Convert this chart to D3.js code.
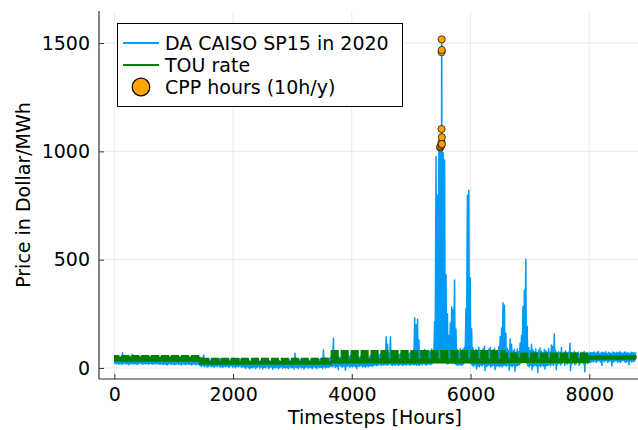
<!DOCTYPE html>
<html>
<head>
<meta charset="utf-8">
<script src="https://cdn.jsdelivr.net/npm/d3@7/dist/d3.min.js"></script>
<style>
  body { margin: 0; background: #fff; }
  text { font-family: "DejaVu Sans", sans-serif; fill: #000; }
</style>
</head>
<body>
<svg id="chart" width="638" height="430"></svg>
<script>
// Day-ahead CAISO SP15 price in 2020 ($/MWh): daily low and daily high, month by month.
const lowJan = [20,18,22,17,21,16,19,23,18,20,15,19,22,17,21,18,16,20,23,19,17,21,18,20,16,22,19,17,21,18,20];
const highJan = [52,48,55,46,50,70,58,47,44,51,49,53,62,56,48,45,50,54,47,43,52,57,49,46,51,55,48,44,50,53,47];
const lowFeb = [18,16,20,15,19,17,14,18,21,16,19,15,17,20,16,18,14,19,17,15,20,16,18,14,17,19,15,18,16];
const highFeb = [46,50,44,48,52,45,41,49,53,47,43,50,46,42,48,51,45,40,47,49,44,46,50,43,41,48,45,52,47];
const lowMar = [10,8,12,6,9,4,7,11,5,8,3,9,6,10,4,7,2,8,5,9,3,6,10,4,7,1,8,5,9,3,6];
const highMar = [45,48,60,42,38,44,40,36,41,39,43,37,35,40,44,38,36,42,39,34,37,41,45,38,35,40,36,43,39,37,41];
const lowApr = [4,-2,6,1,-5,3,0,5,-3,2,7,-1,4,-4,3,1,6,-2,2,5,-6,3,0,4,-3,2,6,-1,3,0];
const highApr = [36,33,38,34,30,37,35,32,39,34,31,36,33,29,35,38,32,34,30,36,33,37,31,35,34,30,38,33,36,32];
const lowMay = [2,-4,5,0,3,-6,4,1,-2,6,0,3,-5,2,5,-1,4,0,-3,6,2,-4,5,1,3,-2,6,0,4,2,5];
const highMay = [34,38,32,36,40,68,35,33,39,37,42,36,34,38,41,35,37,33,39,44,36,40,38,43,45,83,48,42,46,44,50];
const lowJun = [8,5,10,2,7,-8,12,6,4,9,-10,7,11,3,8,5,10,6,-4,9,7,12,5,8,3,10,6,9,11,7];
const highJun = [55,137,52,48,56,50,47,53,58,49,51,46,54,57,50,48,55,52,60,49,53,56,51,47,58,54,50,59,53,57];
const lowJul = [12,15,10,14,18,11,16,13,17,12,15,19,14,11,16,13,18,12,15,17,11,14,16,13,18,12,15,17,14,16,13];
const highJul = [58,62,55,60,65,57,63,70,144,110,68,144,72,66,60,64,58,62,67,59,63,70,65,61,68,72,66,75,232,200,225];
const lowAug = [15,12,18,14,20,16,13,19,17,15,21,25,35,40,45,42,48,38,30,25,20,18,22,25,20,24,18,14,12,16,13];
// null: that day's peak is carried by the CPP hours below
const highAug = [129,80,72,78,85,70,76,82,74,88,79,214,975,798,1005,null,null,995,960,430,250,150,207,283,270,406,180,85,78,90,82];
const lowSep = [14,18,30,35,38,28,20,12,8,15,-5,10,6,13,9,16,-12,7,11,14,5,9,13,-8,8,12,6,10,4,11];
const highSep = [88,95,275,798,821,415,180,92,78,85,70,96,82,74,88,100,79,72,86,94,77,83,90,75,81,98,144,184,301,290];
const lowOct = [12,8,14,-10,10,6,13,-15,9,11,15,20,25,28,30,22,10,5,12,-8,7,14,9,-20,11,6,13,8,-5,10,12];
const highOct = [160,90,80,134,110,78,85,72,88,76,114,150,283,360,502,193,95,80,109,84,75,88,70,82,92,77,68,85,79,73,90];
const lowNov = [15,10,18,12,20,-8,16,22,14,19,25,11,21,17,23,-12,18,24,15,20,26,13,22,28,19,-18,24,21,27,25];
const highNov = [72,106,100,157,80,68,75,70,95,66,74,78,69,73,114,71,65,77,70,68,74,63,72,69,76,66,71,67,73,70];
const lowDec = [30,28,33,25,31,34,27,12,32,29,35,26,30,33,9,28,31,34,27,30,24,32,35,29,26,31,15,33,28,30,32];
const highDec = [70,74,68,72,76,65,71,73,69,75,67,72,70,66,74,71,68,73,69,75,70,67,72,74,68,71,66,73,70,69,72];

// Critical peak pricing hours: the ten highest-priced hours of the year
const cppHours = [5489, 5490, 5510, 5511, 5512, 5513, 5514, 5515, 5516, 5517];
const cppPrices = [1018, 1022, 1028, 1040, 1103, 1458, 1517, 1468, 1065, 1034];

// Time-of-use tariff: season start hour, off-peak and peak rates ($/MWh)
const touSeasonStart = [0, 1440, 3648, 6576, 7992];
const touOffPeak = [33, 19, 25, 27, 42];
const touWeekdayPeak = [55, 42, 78, 67, 54];
const touWeekendPeak = [48, 28, 38, 40, 54];
const touPeakHours = [12, 20];   // on-peak window [start, end) within each day

const xTicks = [0, 2000, 4000, 6000, 8000];
const yTicks = [0, 500, 1000, 1500];
const hoursInYear = 8784;

(function draw() {
  const dailyLow = [].concat(lowJan, lowFeb, lowMar, lowApr, lowMay, lowJun, lowJul, lowAug, lowSep, lowOct, lowNov, lowDec);
  const dailyHigh = [].concat(highJan, highFeb, highMar, highApr, highMay, highJun, highJul, highAug, highSep, highOct, highNov, highDec);

  // Price trace: overnight low then evening high for every day, plus the CPP hours
  const price = [];
  dailyLow.forEach((lo, d) => {
    price.push({ h: d * 24 + 4, v: lo });
    if (dailyHigh[d] !== null) price.push({ h: d * 24 + 19, v: dailyHigh[d] });
  });
  const cpp = cppHours.map((h, i) => ({ h, v: cppPrices[i] }));
  price.push(...cpp);
  price.sort((a, b) => a.h - b.h);

  // TOU rate as a step series (1 Jan 2020 was a Wednesday)
  const tou = [];
  for (let d = 0; d < hoursInYear / 24; d++) {
    const h0 = d * 24;
    let s = 0;
    while (s + 1 < touSeasonStart.length && h0 >= touSeasonStart[s + 1]) s++;
    const dow = (d + 3) % 7;
    const weekend = dow === 0 || dow === 6;
    const peak = weekend ? touWeekendPeak[s] : touWeekdayPeak[s];
    tou.push({ h: h0, v: touOffPeak[s] });
    tou.push({ h: h0 + touPeakHours[0], v: peak });
    tou.push({ h: h0 + touPeakHours[1], v: touOffPeak[s] });
  }
  tou.push({ h: hoursInYear - 1, v: tou[tou.length - 1].v });

  const svg = d3.select("#chart");
  const W = 638, H = 430;
  const pL = 99, pR = 641, pT = 11, pB = 379;
  const fs = 19;

  svg.append("rect").attr("width", W).attr("height", H).attr("fill", "#fff");

  const x = d3.scaleLinear().domain([-258, 8871]).range([pL, pR]);
  const y = d3.scaleLinear().domain([-51, 1648]).range([pB, pT]);

  svg.append("defs").append("clipPath").attr("id", "plot-area")
    .append("rect").attr("x", pL).attr("y", pT).attr("width", pR - pL).attr("height", pB - pT);

  // grid
  const grid = svg.append("g");
  grid.selectAll(".gx").data(xTicks).join("line")
    .attr("x1", d => x(d)).attr("x2", d => x(d)).attr("y1", pT).attr("y2", pB)
    .attr("stroke", "#000").attr("stroke-opacity", 0.1).attr("stroke-width", 0.8);
  grid.selectAll(".gy").data(yTicks).join("line")
    .attr("x1", pL).attr("x2", pR).attr("y1", d => y(d)).attr("y2", d => y(d))
    .attr("stroke", "#000").attr("stroke-opacity", 0.1).attr("stroke-width", 0.8);

  const plot = svg.append("g").attr("clip-path", "url(#plot-area)");

  plot.append("path").datum(price)
    .attr("fill", "none").attr("stroke", "#009af9").attr("stroke-width", 1.5)
    .attr("stroke-linejoin", "round")
    .attr("d", d3.line().x(d => x(d.h)).y(d => y(d.v)));

  plot.append("path").datum(tou)
    .attr("fill", "none").attr("stroke", "#008000").attr("stroke-width", 2)
    .attr("d", d3.line().curve(d3.curveStepAfter).x(d => x(d.h)).y(d => y(d.v)));

  plot.selectAll(".cpp").data(cpp).join("circle")
    .attr("cx", d => x(d.h)).attr("cy", d => y(d.v)).attr("r", 3.6)
    .attr("fill", "#ffa500").attr("stroke", "#000").attr("stroke-width", 0.7);

  // axes
  const xAxis = d3.axisBottom(x).tickValues(xTicks).tickSize(-5).tickPadding(9).tickFormat(d3.format("d"));
  const yAxis = d3.axisLeft(y).tickValues(yTicks).tickSize(-5).tickPadding(9).tickFormat(d3.format("d"));

  const gx = svg.append("g").attr("transform", `translate(0,${pB})`).call(xAxis);
  const gy = svg.append("g").attr("transform", `translate(${pL},0)`).call(yAxis);
  [gx, gy].forEach(g => {
    g.select(".domain").attr("stroke", "#333").attr("stroke-width", 1.2);
    g.selectAll(".tick line").attr("stroke", "#333").attr("stroke-width", 1);
    g.selectAll(".tick text").attr("font-size", fs).attr("font-family", "DejaVu Sans").attr("fill", "#000");
  });
  gx.select(".domain").attr("d", `M${pL},0H${W}`);
  gy.select(".domain").attr("d", `M0,${pT}V${pB}`);

  svg.append("text").attr("x", 375).attr("y", 424).attr("text-anchor", "middle")
    .attr("font-size", fs).text("Timesteps [Hours]");
  svg.append("text").attr("transform", `translate(30,${(pT + pB) / 2}) rotate(-90)`)
    .attr("text-anchor", "middle").attr("font-size", fs).text("Price in Dollar/MWh");

  // legend
  const lg = svg.append("g");
  lg.append("rect").attr("x", 117.5).attr("y", 23.5).attr("width", 285).attr("height", 83)
    .attr("fill", "#fff").attr("stroke", "#000").attr("stroke-width", 1);
  const entries = [
    { label: "DA CAISO SP15 in 2020", type: "line", color: "#009af9", cy: 43 },
    { label: "TOU rate", type: "line", color: "#008000", cy: 65 },
    { label: "CPP hours (10h/y)", type: "marker", color: "#ffa500", cy: 87 }
  ];
  entries.forEach(e => {
    if (e.type === "line") {
      lg.append("line").attr("x1", 123).attr("x2", 159).attr("y1", e.cy).attr("y2", e.cy)
        .attr("stroke", e.color).attr("stroke-width", 2);
    } else {
      lg.append("circle").attr("cx", 141).attr("cy", e.cy).attr("r", 8.8)
        .attr("fill", e.color).attr("stroke", "#000").attr("stroke-width", 1.2);
    }
    lg.append("text").attr("x", 165).attr("y", e.cy).attr("dy", "0.36em")
      .attr("font-size", fs).text(e.label);
  });
})();
</script>
</body>
</html>
